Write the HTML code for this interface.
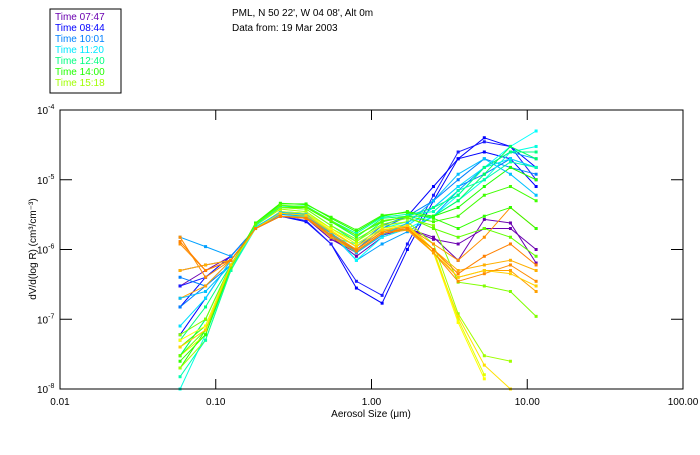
<!DOCTYPE html>
<html><head><meta charset="utf-8"><style>
body{margin:0;background:#fff;width:700px;height:450px;overflow:hidden;font-family:"Liberation Sans",sans-serif}
svg text{font-family:"Liberation Sans",sans-serif;font-size:10px;fill:#000}
</style></head><body>
<svg id="chart" width="700" height="450" viewBox="0 0 700 450">
<rect x="50" y="9" width="71" height="84" fill="none" stroke="#000" stroke-width="1"/>
<g id="legend"></g>
<text x="232" y="16">PML, N 50 22', W 04 08', Alt 0m</text>
<text x="232" y="31">Data from: 19 Mar 2003</text>
<g id="series"></g>
<rect x="60" y="110" width="623" height="279" fill="none" stroke="#000" stroke-width="1"/>
<g id="axes"></g>
<text x="371" y="417" text-anchor="middle">Aerosol Size (μm)</text>
<text transform="translate(36,249) rotate(-90)" text-anchor="middle">dV/d(log R)  (cm³/cm⁻³)</text>
</svg>
<script>
const legendLabels=["Time 07:47","Time 08:44","Time 10:01","Time 11:20","Time 12:40","Time 14:00","Time 15:18"];
const legendColors=["#6a00b0","#0000ff","#0080ff","#00e8ff","#00ff80","#20ff00","#a0ff00"];
const xTicks=[0.01,0.1,1,10,100];
const xTickLabels=["0.01","0.10","1.00","10.00","100.00"];
const yTicks=[-8,-7,-6,-5,-4];
const sizes=[0.059,0.086,0.125,0.18,0.26,0.38,0.55,0.80,1.17,1.7,2.5,3.6,5.3,7.8,11.4];
const seriesColors=["#6a00b0","#6a00b0","#0000ff","#1a1aff","#0000ff","#0080ff","#0080ff","#00a0ff","#00ffff","#00e0ff","#00ffe0","#00ff80","#00ff60","#20ff00","#40ff00","#80ff00","#a0ff00","#e0ff00","#ffff00","#ffe000","#ff8c00","#ffb000","#ff9000","#ffa000","#00c0ff","#00ffb0","#30ff00","#60ff00","#ffd000","#ff8000"];
const s1=[5e-7,6e-7,7e-7,2e-6,3.5e-6,3e-6,1.5e-6,8e-7,1.5e-6,2e-6,1.5e-6,7e-7,2.7e-6,2.4e-6,6.4e-7];
const s2=[3e-7,5e-7,8e-7,2e-6,3e-6,2.8e-6,1.4e-6,9e-7,1.6e-6,2e-6,1.4e-6,1.2e-6,2e-6,2e-6,1e-6];
const s3=[1.5e-7,4e-7,8e-7,2e-6,3e-6,2.5e-6,1.2e-6,2.8e-7,1.7e-7,1e-6,5e-6,2e-5,4e-5,3e-5,1.5e-5];
const s4=[3e-7,4e-7,8e-7,2e-6,3e-6,2.6e-6,1.2e-6,3.5e-7,2.2e-7,1.2e-6,6e-6,2.5e-5,3.5e-5,3e-5,1e-5];
const s5=[6e-8,2e-7,7e-7,2e-6,3e-6,2.8e-6,1.5e-6,1e-6,2e-6,3e-6,8e-6,2e-5,2.5e-5,2e-5,8e-6];
const s6=[1.5e-7,3e-7,7e-7,2e-6,3.2e-6,3e-6,1.6e-6,1e-6,2e-6,3e-6,5e-6,1e-5,2e-5,1.5e-5,1.2e-5];
const s7=[4e-7,3e-7,6e-7,2e-6,3.5e-6,3.2e-6,1.8e-6,1.1e-6,2.2e-6,3e-6,4e-6,8e-6,1.2e-5,2e-5,1.5e-5];
const s8=[1.5e-6,1.1e-6,8e-7,2e-6,3.2e-6,3e-6,1.7e-6,7e-7,1.2e-6,1.8e-6,3e-6,7e-6,1.5e-5,2.5e-5,2e-5];
const s9=[3e-8,1e-7,6e-7,2e-6,3.5e-6,3.3e-6,1.8e-6,7e-7,1.5e-6,2e-6,3e-6,6e-6,1.5e-5,3e-5,5e-5];
const s10=[8e-8,2e-7,7e-7,2e-6,3.5e-6,3.3e-6,1.7e-6,1e-6,1.8e-6,2.2e-6,4e-6,8e-6,1.5e-5,2e-5,1.5e-5];
const s11=[1e-8,6e-8,5e-7,2e-6,3e-6,3e-6,1.5e-6,1.2e-6,2e-6,2.5e-6,3e-6,5e-6,1e-5,2.5e-5,3e-5];
const s12=[5e-8,1.5e-7,6e-7,2.2e-6,4e-6,3.8e-6,2.2e-6,1.3e-6,2.5e-6,3e-6,4e-6,6e-6,1.5e-5,2.5e-5,2.5e-5];
const s13=[3e-8,1e-7,6e-7,2.3e-6,4.2e-6,4e-6,2.5e-6,1.5e-6,2.8e-6,3e-6,3e-6,5e-6,1.2e-5,3e-5,2e-5];
const s14=[2e-8,7e-8,5e-7,2.3e-6,4.5e-6,4.5e-6,2.8e-6,1.8e-6,3e-6,3.5e-6,3e-6,4e-6,8e-6,1.5e-5,1e-5];
const s15=[4e-8,8e-8,6e-7,2.3e-6,4e-6,4e-6,2.5e-6,1.6e-6,2.5e-6,3e-6,2.5e-6,3e-6,6e-6,8e-6,5e-6];
const s16=[6e-8,1e-7,6e-7,2.2e-6,4e-6,3.8e-6,2.2e-6,1.4e-6,2.3e-6,2.8e-6,2.2e-6,3.4e-7,3e-7,2.5e-7,1.1e-7];
const s17=[2e-8,5e-8,5e-7,2.2e-6,3.8e-6,3.5e-6,2e-6,1.3e-6,2.2e-6,2.5e-6,1.2e-6,1.2e-7,3e-8,2.5e-8,null];
const s18=[3e-8,6e-8,6e-7,2e-6,3.5e-6,3.3e-6,2e-6,1.2e-6,2e-6,2.3e-6,1e-6,1e-7,1.6e-8,null,null];
const s19=[5e-8,8e-8,6e-7,2e-6,3.4e-6,3.2e-6,1.9e-6,1.1e-6,1.9e-6,2.2e-6,9e-7,9e-8,1.4e-8,null,null];
const s20=[4e-8,7e-8,6e-7,2e-6,3.3e-6,3.1e-6,1.8e-6,1.1e-6,1.9e-6,2.1e-6,9e-7,1.1e-7,2.2e-8,1e-8,null];
const s21=[1.5e-6,4e-7,7e-7,2e-6,3e-6,2.8e-6,1.6e-6,1e-6,1.8e-6,2e-6,9e-7,3.5e-7,4.5e-7,6e-7,3.5e-7];
const s22=[5e-7,6e-7,7e-7,2e-6,3e-6,2.8e-6,1.6e-6,9e-7,1.7e-6,2e-6,1e-6,5e-7,6e-7,7e-7,5e-7];
const s23=[1.2e-6,5e-7,7e-7,2e-6,3e-6,2.9e-6,1.7e-6,1e-6,1.8e-6,2.1e-6,1.2e-6,7e-7,1.5e-6,4e-6,2e-6];
const s24=[2e-7,3e-7,7e-7,2e-6,3e-6,2.8e-6,1.5e-6,9e-7,1.7e-6,1.9e-6,9e-7,4e-7,5e-7,5e-7,2.5e-7];
const s25=[2e-7,2.5e-7,6e-7,2.1e-6,3.4e-6,3.2e-6,1.7e-6,9e-7,1.6e-6,2.4e-6,5e-6,1.2e-5,2e-5,1.2e-5,6e-6];
const s26=[1.5e-8,5e-8,5e-7,2.2e-6,4.2e-6,4.2e-6,2.6e-6,1.7e-6,2.9e-6,3.2e-6,3.5e-6,7e-6,1e-5,1.8e-5,1.5e-5];
const s27=[2.5e-8,6e-8,5.5e-7,2.4e-6,4.6e-6,4.4e-6,2.9e-6,1.9e-6,3.1e-6,3.4e-6,2.8e-6,2e-6,3e-6,4e-6,2e-6];
const s28=[3e-8,7e-8,5.5e-7,2.3e-6,4.3e-6,4.1e-6,2.6e-6,1.6e-6,2.6e-6,2.9e-6,2e-6,1.5e-6,2e-6,1.5e-6,8e-7];
const s29=[4e-8,7e-8,6e-7,2e-6,3.3e-6,3.1e-6,1.8e-6,1.1e-6,1.9e-6,2.2e-6,1e-6,4e-7,5e-7,4.5e-7,3e-7];
const s30=[1.3e-6,5e-7,7e-7,2e-6,3e-6,2.8e-6,1.6e-6,9.5e-7,1.7e-6,2e-6,1e-6,4.5e-7,8e-7,1.2e-6,6e-7];
const allSeries=[s1,s2,s3,s4,s5,s6,s7,s8,s9,s10,s11,s12,s13,s14,s15,s16,s17,s18,s19,s20,s21,s22,s23,s24,s25,s26,s27,s28,s29,s30];

const NS="http://www.w3.org/2000/svg";
const X0=60,X1=683,Y0=389,Y1=110;
function xScale(v){return X0+(Math.log10(v)+2)/4*(X1-X0);}
function yScale(v){return Y0-(Math.log10(v)+8)/4*(Y0-Y1);}
function mk(tag,attrs,parent){const e=document.createElementNS(NS,tag);for(const k in attrs)e.setAttribute(k,attrs[k]);parent.appendChild(e);return e;}

const lg=document.getElementById('legend');
legendLabels.forEach((l,i)=>{
 const t=mk('text',{x:55,y:20+i*11},lg);
 
 
 t.style.fill=legendColors[i];t.textContent=l;
});

const ax=document.getElementById('axes');
xTicks.forEach((v,i)=>{
 const x=xScale(v);
 const a=mk('line',{x1:x,x2:x,y1:Y0,y2:Y0-10,stroke:'#000'},ax);
 
 
 const b=mk('line',{x1:x,x2:x,y1:Y1,y2:Y1+10,stroke:'#000'},ax);
 
 
 const t=mk('text',{x:x,y:405,'text-anchor':'middle'},ax);
 
 
 t.textContent=xTickLabels[i];
});
yTicks.forEach(v=>{
 const y=yScale(Math.pow(10,v));
 const a=mk('line',{x1:X0,x2:X0+12,y1:y,y2:y,stroke:'#000'},ax);
 
 
 const b=mk('line',{x1:X1,x2:X1-12,y1:y,y2:y,stroke:'#000'},ax);
 
 
 const t=mk('text',{x:37,y:y+4},ax);
 
 
 t.innerHTML='10<tspan dy="-5" font-size="7">'+v+'</tspan>';
});

const sg=document.getElementById('series');
allSeries.forEach((s,si)=>{
 const c=seriesColors[si];
 const pts=[];
 s.forEach((v,i)=>{if(v!=null)pts.push([xScale(sizes[i]),yScale(v)]);});
 const p=mk('polyline',{points:pts.map(q=>q[0].toFixed(1)+','+q[1].toFixed(1)).join(' '),fill:'none',stroke:c,'stroke-width':1},sg);
 
 
 pts.forEach(q=>{
  const r=mk('rect',{x:q[0]-1.5,y:q[1]-1.5,width:3,height:3,fill:c},sg);
  
  
 });
});
</script>
</body></html>
